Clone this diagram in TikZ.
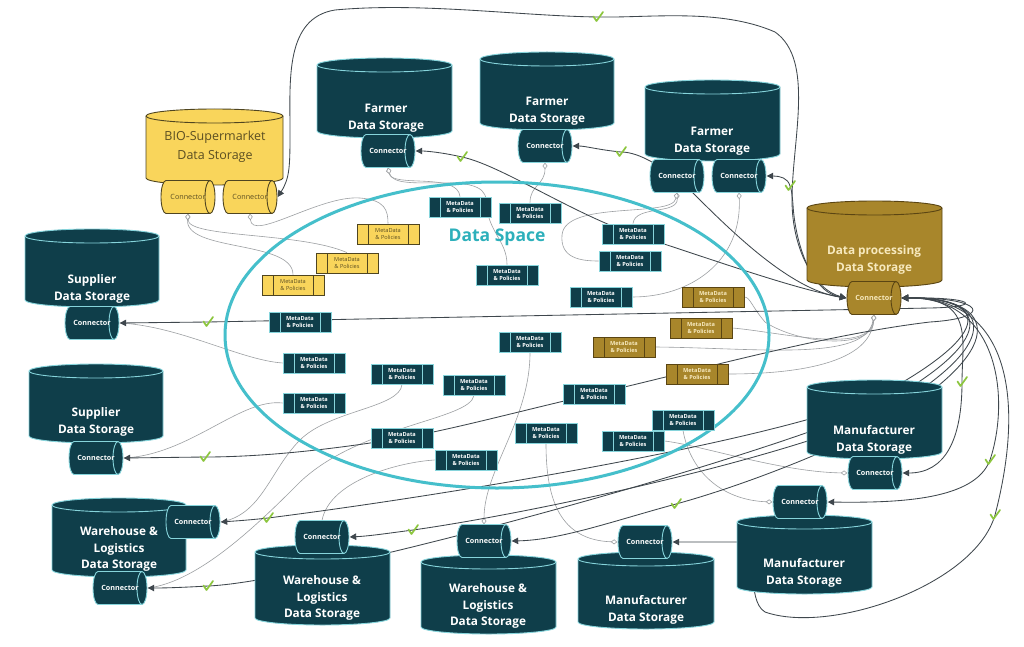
\documentclass[tikz,border=0pt]{standalone}
\usepackage{fontspec}
\setmainfont{Open Sans}
\usetikzlibrary{arrows.meta,shapes.geometric}
\pgfdeclarelayer{bg}
\pgfsetlayers{bg,main}
\definecolor{dteal}{HTML}{0F3E4A}
\definecolor{rimc}{HTML}{86D4DB}
\definecolor{ylw}{HTML}{F9D55B}
\definecolor{ylwline}{HTML}{4F4520}
\definecolor{ylwtext}{HTML}{5B4E22}
\definecolor{gold}{HTML}{A8862B}
\definecolor{goldline}{HTML}{5A4513}
\definecolor{goldtext}{HTML}{F7E9BE}
\definecolor{dscyan}{HTML}{45BFCB}
\definecolor{dstext}{HTML}{2DB0BB}
\definecolor{linkc}{HTML}{3F474D}
\definecolor{metac}{HTML}{9C9FA2}
\definecolor{chkc}{HTML}{8CC63E}
% cylinder: name, left, top, right, bottom, fill, line
\newcommand\dbcyl[7]{%
  \path[fill=#6,draw=#7,line width=0.9pt] (#2,{#3+7}) -- (#2,{#5-7})
    arc[start angle=180,end angle=360,x radius={(#4-#2)/2*1pt},y radius=7pt]
    -- (#4,{#3+7})
    arc[start angle=0,end angle=180,x radius={(#4-#2)/2*1pt},y radius=7pt] -- cycle;
  \draw[#7,line width=0.9pt] (#2,{#3+7})
    arc[start angle=180,end angle=360,x radius={(#4-#2)/2*1pt},y radius=7pt];
  \node[inner sep=0pt,minimum width={(#4-#2)*1pt},minimum height={(#5-#3)*1pt}] (#1) at ({(#2+#4)/2},{(#3+#5)/2}) {};
}
% connector: name, cx, cy, fill, line, extra label style
\newcommand\conn[6]{%
  \path[fill=#4,draw=#5,line width=0.9pt] ({#2+22},{#3-16.5})
    arc[start angle=90,end angle=-90,x radius=5pt,y radius=16.5pt]
    -- ({#2-22},{#3+16.5})
    arc[start angle=270,end angle=90,x radius=5pt,y radius=16.5pt] -- cycle;
  \draw[#5,line width=0.9pt] ({#2+22},{#3-16.5})
    arc[start angle=90,end angle=270,x radius=5pt,y radius=16.5pt];
  \node[connlabel,#6] (#1) at (#2,#3) {Connector};
}
\begin{document}
\begin{tikzpicture}[x=1pt,y=-1pt,
  dbtext/.style={text=white,align=center,font=\fontsize{11.8}{16.5}\selectfont\bfseries,inner sep=0pt},
  connlabel/.style={inner sep=0pt,minimum width=55pt,minimum height=33pt,text=white,font=\fontsize{7.2}{8}\selectfont\bfseries},
  divs/.style={path picture={\draw[#1,line width=.6pt]
     ([xshift=11pt]path picture bounding box.north west) -- ([xshift=11pt]path picture bounding box.south west)
     ([xshift=-11pt]path picture bounding box.north east) -- ([xshift=-11pt]path picture bounding box.south east);}},
  mdbase/.style={rectangle,minimum width=62pt,minimum height=20pt,inner sep=0pt,line width=.8pt,align=center,font=\fontsize{5.6}{6.6}\selectfont\bfseries},
  mdt/.style={mdbase,fill=dteal,draw=rimc,text=white,divs=rimc},
  mdy/.style={mdbase,fill=ylw,draw=ylwline,text=ylwtext,divs=ylwline,font=\fontsize{5.6}{6.6}\selectfont},
  mdg/.style={mdbase,fill=gold,draw=goldline,text=goldtext,divs=goldline},
  link/.style={draw=linkc,line width=.85pt,{Triangle[width=6.5pt,length=6.5pt]}-{Triangle[width=6.5pt,length=6.5pt]}},
  meta/.style={draw=metac,line width=.6pt},
  metad/.style={meta,{Diamond[fill=white,width=5pt,length=6.5pt]}-},
  chk/.style={inner sep=0pt,minimum width=14pt,minimum height=14pt,draw=none,
    path picture={\draw[-,chkc,line width=1.7pt,line cap=round,line join=round]
      ([shift={(-4.5pt,0.5pt)}]path picture bounding box.center) --
      ([shift={(-1.5pt,-4pt)}]path picture bounding box.center) --
      ([shift={(5pt,5pt)}]path picture bounding box.center);}}]
\useasboundingbox (0,0) rectangle (1024,647);

% ---------- cylinders ----------
\dbcyl{bio}{146}{109}{283}{185}{ylw}{ylwline}
\conn{bioA}{188}{197}{ylw}{ylwline}{text=ylwtext,font=\fontsize{7.2}{8}\selectfont}
\conn{bioB}{250}{197}{ylw}{ylwline}{text=ylwtext,font=\fontsize{7.2}{8}\selectfont}
\node[align=center,text=ylwtext,font=\fontsize{12.5}{19}\selectfont,inner sep=0pt] (biot) at (215,147) {BIO-Supermarket\\Data Storage};

\dbcyl{farmA}{317}{58}{452}{138}{dteal}{rimc}
\node[dbtext] (farmAt) at (386,118) {Farmer\\Data Storage};
\conn{fAc}{388}{151}{dteal}{rimc}{}

\dbcyl{farmB}{480}{52}{614}{130}{dteal}{rimc}
\node[dbtext] (farmBt) at (547,111) {Farmer\\Data Storage};
\conn{fBc}{545}{146}{dteal}{rimc}{}

\dbcyl{farmC}{645}{80}{780}{161}{dteal}{rimc}
\node[dbtext] (farmCt) at (712,141) {Farmer\\Data Storage};
\conn{fCa}{677}{176}{dteal}{rimc}{}
\conn{fCb}{739}{176}{dteal}{rimc}{}

\dbcyl{supA}{25}{229}{159}{307}{dteal}{rimc}
\node[dbtext] (supAt) at (92,289) {Supplier\\Data Storage};
\conn{sAc}{92}{323}{dteal}{rimc}{}

\dbcyl{supB}{29}{364}{163}{443}{dteal}{rimc}
\node[dbtext] (supBt) at (96,422) {Supplier\\Data Storage};
\conn{sBc}{96}{458}{dteal}{rimc}{}

\dbcyl{whA}{52}{498}{186}{577}{dteal}{rimc}
\node[dbtext] (whAt) at (119,549) {Warehouse \&\\Logistics\\Data Storage};
\conn{wAa}{193}{522}{dteal}{rimc}{}
\conn{wAb}{120}{588}{dteal}{rimc}{}

\dbcyl{whB}{255}{545}{390}{625}{dteal}{rimc}
\node[dbtext] (whBt) at (322,598) {Warehouse \&\\Logistics\\Data Storage};
\conn{wBc}{322}{537}{dteal}{rimc}{}

\dbcyl{whC}{421}{555}{556}{634}{dteal}{rimc}
\node[dbtext] (whCt) at (488,606) {Warehouse \&\\Logistics\\Data Storage};
\conn{wCc}{484}{541}{dteal}{rimc}{}

\dbcyl{manA}{578}{552}{714}{629}{dteal}{rimc}
\node[dbtext] (manAt) at (646,610) {Manufacturer\\Data Storage};
\conn{mAc}{645}{542}{dteal}{rimc}{}

\dbcyl{manB}{737}{515}{872}{594}{dteal}{rimc}
\node[dbtext] (manBt) at (804,573) {Manufacturer\\Data Storage};
\conn{mBc}{800}{502}{dteal}{rimc}{}

\dbcyl{manC}{807}{380}{942}{459}{dteal}{rimc}
\node[dbtext] (manCt) at (874,440) {Manufacturer\\Data Storage};
\conn{mCc}{875}{473}{dteal}{rimc}{}

\dbcyl{dp}{807}{201}{942}{287}{gold}{goldline}
\node[dbtext,text=goldtext] (dpt) at (874,260) {Data processing\\Data Storage};
\conn{dpc}{874}{298}{gold}{goldline}{text=goldtext}

% ---------- metadata boxes ----------
\node[mdy] (yA) at (388,234) {MetaData\\\& Policies};
\node[mdy] (yB) at (347,263) {MetaData\\\& Policies};
\node[mdy] (yC) at (293,285) {MetaData\\\& Policies};

\node[mdt] (tA) at (460,207) {MetaData\\\& Policies};
\node[mdt] (tB) at (530,213) {MetaData\\\& Policies};
\node[mdt] (tC) at (507,275) {MetaData\\\& Policies};
\node[mdt] (tD) at (633,234) {MetaData\\\& Policies};
\node[mdt] (tE) at (630,261) {MetaData\\\& Policies};
\node[mdt] (tF) at (601,297) {MetaData\\\& Policies};
\node[mdt] (tG) at (300,322) {MetaData\\\& Policies};
\node[mdt] (tH) at (314,363) {MetaData\\\& Policies};
\node[mdt] (tI) at (314,403) {MetaData\\\& Policies};
\node[mdt] (tJ) at (402,374) {MetaData\\\& Policies};
\node[mdt] (tK) at (474,385) {MetaData\\\& Policies};
\node[mdt] (tL) at (530,342) {MetaData\\\& Policies};
\node[mdt] (tM) at (594,394) {MetaData\\\& Policies};
\node[mdt] (tN) at (402,438) {MetaData\\\& Policies};
\node[mdt] (tO) at (466,460) {MetaData\\\& Policies};
\node[mdt] (tP) at (546,433) {MetaData\\\& Policies};
\node[mdt] (tQ) at (633,441) {MetaData\\\& Policies};
\node[mdt] (tR) at (683,420) {MetaData\\\& Policies};

\node[mdg] (gA) at (713,297) {MetaData\\\& Policies};
\node[mdg] (gB) at (701,328) {MetaData\\\& Policies};
\node[mdg] (gC) at (624,347) {MetaData\\\& Policies};
\node[mdg] (gD) at (697,374) {MetaData\\\& Policies};

\node[text=dstext,font=\fontsize{17.5}{20}\selectfont\bfseries,inner sep=0pt] (dslabel) at (497,237) {Data Space};

% ---------- connectors (background) ----------
\begin{pgfonlayer}{bg}
\fill[white] (0,0) rectangle (1024,647);
% metadata links
\draw[metad] (bioA.south) .. controls (188,238) and (300,232) .. (yB.north);
\draw[metad] (bioA.south) .. controls (185,252) and (293,240) .. (yC.north);
\draw[metad] (bioB.south) .. controls (252,242) and (320,195) .. (360,198) .. controls (385,200) and (388,210) .. (yA.north);
\draw[metad] (fAc.south) .. controls (392,188) and (458,172) .. (tA.north);
\draw[metad] (fAc.south) .. controls (395,195) and (485,168) .. (486,200) .. controls (487,232) and (507,240) .. (tC.north);
\draw[metad] (fBc.south) .. controls (545,185) and (530,185) .. (tB.north);
\draw[metad] (fCa.south) .. controls (678,215) and (635,205) .. (tD.north);
\draw[metad] (fCa.south) .. controls (672,218) and (565,200) .. (562,235) .. controls (560,258) and (580,261) .. (tE.west);
\draw[metad] (fCb.south) .. controls (742,262) and (690,297) .. (tF.east);
\draw[metad] (dpc.south) .. controls (873,350) and (800,345) .. (765,322) .. controls (752,307) and (750,297) .. (gA.east);
\draw[metad] (dpc.south) .. controls (870,355) and (780,332) .. (gB.east);
\draw[metad] (dpc.south) .. controls (866,362) and (760,348) .. (gC.east);
\draw[metad] (dpc.south) .. controls (870,368) and (780,374) .. (gD.east);
\draw[meta] (tH.west) .. controls (240,360) and (180,326) .. (sAc.east);
\draw[meta] (tI.west) .. controls (240,398) and (190,455) .. (sBc.east);
\draw[meta] (tJ.south) .. controls (400,408) and (330,410) .. (300,440) .. controls (270,470) and (262,515) .. (wAa.east);
\draw[meta] (tK.south) .. controls (470,420) and (360,425) .. (300,482) .. controls (262,520) and (200,582) .. (wAb.east);
\draw[meta] (tO.west) .. controls (400,462) and (330,480) .. (wBc.north);
\draw[metad] (wCc.north) .. controls (484,470) and (530,420) .. (tL.south);
\draw[metad] (mAc.west) .. controls (560,540) and (546,500) .. (tP.south);
\draw[metad] (mBc.west) .. controls (720,500) and (690,470) .. (tR.south);
\draw[metad] (mCc.west) .. controls (780,472) and (700,445) .. (tQ.east);

% data links with checks
\draw[link] (dpc.west) .. controls (815,290) and (792,250) .. (792,200)
  .. controls (792,140) and (815,60) .. (775,32)
  .. controls (720,8) and (650,18) .. (598,17) node[chk] (k1) {}
  .. controls (520,16) and (420,2) .. (335,10)
  .. controls (285,18) and (290,80) .. (290,130)
  .. controls (290,165) and (290,178) .. (bioB.east);
\draw[link] (dpc.west) .. controls (790,288) and (700,255) .. (633,234)
  .. controls (570,212) and (500,165) .. (462,157) node[chk] (k2) {}
  .. controls (440,152) and (425,151) .. (fAc.east);
\draw[link] (dpc.west) .. controls (790,290) and (730,230) .. (690,190)
  .. controls (665,168) and (640,152) .. (621,152) node[chk] (k3) {}
  .. controls (600,150) and (585,146) .. (fBc.east);
\draw[link] (dpc.west) .. controls (810,292) and (795,240) .. (793,205)
  .. controls (792,192) and (791,188) .. (790,186) node[chk] (k4) {}
  .. controls (788,178) and (780,176) .. (fCb.east);
\draw[link] (dpc.east) .. controls (975,297) and (985,307) .. (930,308)
  -- (208,322) node[chk] (k5) {} -- (sAc.east);
\draw[link] (dpc.east) .. controls (985,297) and (995,318) .. (930,322)
  .. controls (820,335) and (680,375) .. (594,394)
  .. controls (520,411) and (450,430) .. (402,438)
  .. controls (330,450) and (260,457) .. (205,457) node[chk] (k6) {} -- (sBc.east);
\draw[link] (dpc.east) .. controls (985,297) and (1000,330) .. (880,395)
  .. controls (780,440) and (450,495) .. (268,518) node[chk] (k7) {}
  .. controls (250,520) and (235,521) .. (wAa.east);
\draw[link] (dpc.east) .. controls (990,297) and (1000,340) .. (880,405)
  .. controls (750,460) and (420,550) .. (300,572)
  .. controls (260,580) and (230,585) .. (208,586) node[chk] (k8) {}
  .. controls (190,587) and (170,588) .. (wAb.east);
\draw[link] (dpc.east) .. controls (995,297) and (1005,345) .. (880,415)
  .. controls (760,465) and (520,515) .. (413,530) node[chk] (k9) {}
  .. controls (390,533) and (370,536) .. (wBc.east);
\draw[link] (dpc.east) .. controls (1000,297) and (1010,350) .. (880,425)
  .. controls (800,465) and (720,492) .. (676,504) node[chk] (k10) {}
  .. controls (610,522) and (560,540) .. (wCc.east);
\draw[link] (dpc.east) .. controls (1010,297) and (1025,400) .. (995,515) node[chk] (k11) {}
  .. controls (975,585) and (830,635) .. (765,612)
  .. controls (745,600) and (760,545) .. (740,542) -- (mAc.east);
\draw[link] (dpc.east) .. controls (1000,297) and (1010,400) .. (990,460) node[chk] (k12) {}
  .. controls (975,500) and (900,503) .. (mBc.east);
\draw[link] (dpc.east) .. controls (975,297) and (962,340) .. (962,382) node[chk] (k13) {}
  .. controls (962,440) and (945,473) .. (mCc.east);
% data space
\node[ellipse,draw=dscyan,line width=3pt,minimum width=544pt,minimum height=306pt,inner sep=0pt] (ds) at (497,335) {};
\end{pgfonlayer}
\end{tikzpicture}
\end{document}
